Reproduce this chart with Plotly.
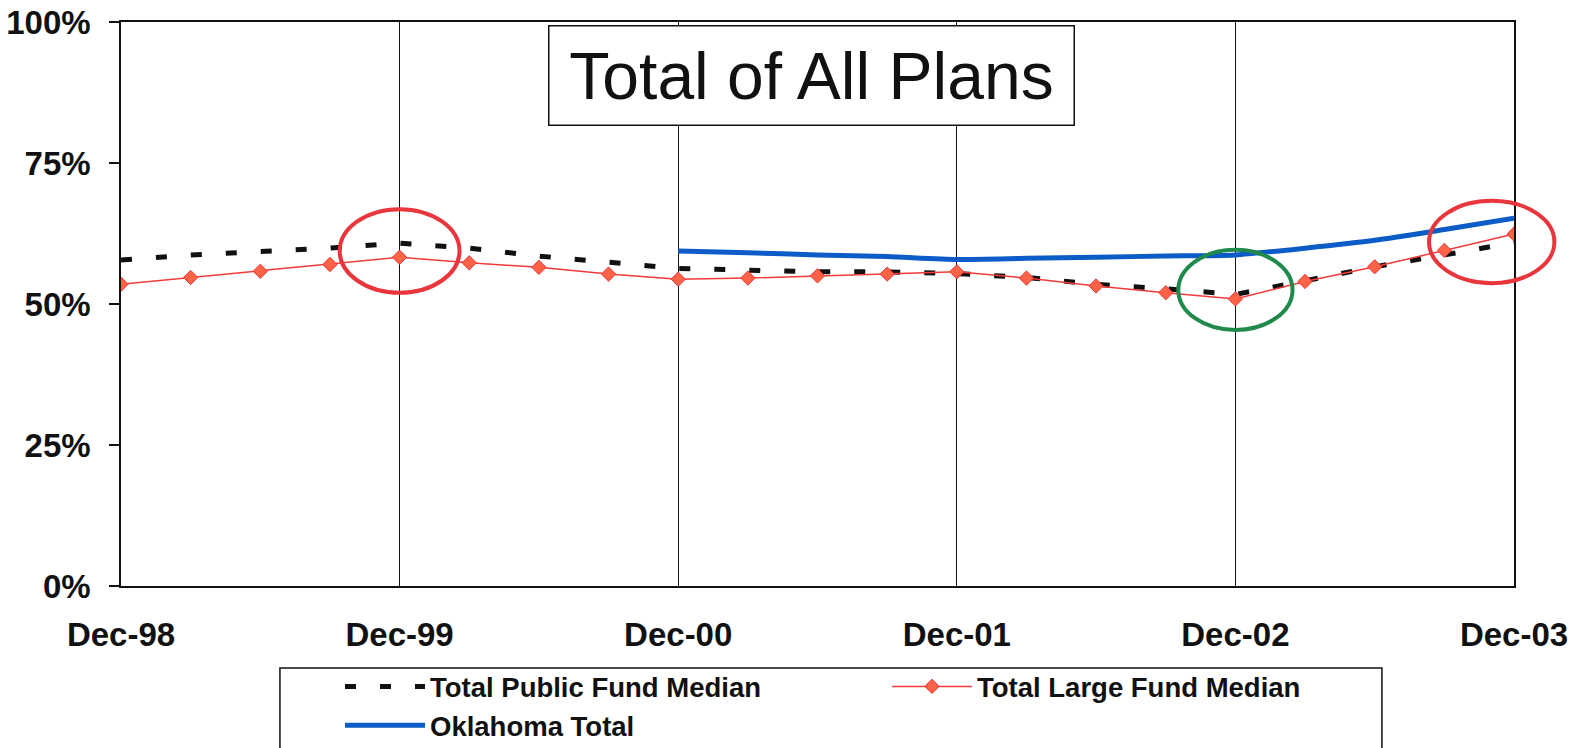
import plotly.graph_objects as go

# Quarter-end labels, Dec-98 through Dec-03
quarters = [
    "Dec-98", "Mar-99", "Jun-99", "Sep-99", "Dec-99", "Mar-00", "Jun-00",
    "Sep-00", "Dec-00", "Mar-01", "Jun-01", "Sep-01", "Dec-01", "Mar-02",
    "Jun-02", "Sep-02", "Dec-02", "Mar-03", "Jun-03", "Sep-03", "Dec-03",
]

# Equity allocation (%) by quarter
public_fund_median = [57.8, 58.7, 59.3, 59.9, 60.8, 59.9, 58.5, 57.3, 56.3, 56.0, 55.7,
                      55.7, 55.4, 54.7, 53.5, 52.7, 51.7, 54.1, 56.6, 58.7, 60.9]
large_fund_median = [53.5, 54.7, 55.8, 57.0, 58.3, 57.3, 56.5, 55.3, 54.4, 54.6, 55.0,
                     55.3, 55.7, 54.6, 53.2, 52.0, 50.9, 54.0, 56.6, 59.5, 62.4]
# Oklahoma series starts at Dec-00
oklahoma_start = 8
oklahoma_total = [59.4, 59.1, 58.7, 58.4, 57.9, 58.1, 58.3, 58.5, 58.7, 59.9, 61.3, 63.2, 65.2]

y_ticks = [0, 25, 50, 75, 100]
year_ticks = [0, 4, 8, 12, 16, 20]

# Highlight rings: (quarter position, centre %, half-width in quarters, half-height in %, colour)
rings = [
    (4.0, 59.4, 0.86, 7.4, "#E8363C"),
    (16.0, 52.5, 0.82, 7.1, "#1F8A4C"),
    (19.68, 61.0, 0.90, 7.3, "#E8363C"),
]

x_all = list(range(len(quarters)))
x_ok = x_all[oklahoma_start:oklahoma_start + len(oklahoma_total)]

FONT = "Liberation Sans, Arial, sans-serif"
W, H = 1578, 748

fig = go.Figure()
fig.add_trace(go.Scatter(
    x=x_all, y=public_fund_median, mode="lines", name="Total Public Fund Median",
    line=dict(color="#111111", width=5, dash="11px,24px"),
))
fig.add_trace(go.Scatter(
    x=x_all, y=large_fund_median, mode="lines+markers", name="Total Large Fund Median",
    line=dict(color="#F23A3A", width=1.5),
    marker=dict(symbol="diamond", size=11, color="#FF6347",
                line=dict(color="#F03434", width=1)),
))
fig.add_trace(go.Scatter(
    x=x_ok, y=oklahoma_total, mode="lines", name="Oklahoma Total",
    line=dict(color="#0B5CC6", width=5, shape="spline", smoothing=0.6),
))

X_MAX = len(quarters) - 1
shapes = []
for cx, cy, rx, ry, col in rings:
    shapes.append(dict(
        type="circle", xref="paper", yref="paper",
        x0=(cx - rx) / X_MAX, x1=(cx + rx) / X_MAX,
        y0=(cy - ry) / 100, y1=(cy + ry) / 100,
        line=dict(color=col, width=4), layer="above",
    ))

# Frame around the legend, running off the bottom of the page
shapes.append(dict(
    type="rect", xref="paper", yref="paper",
    x0=0.1141, x1=0.9052, y0=-0.31, y1=-0.1454,
    line=dict(color="#111111", width=1.5), fillcolor="white", layer="below",
))

fig.update_layout(
    width=W, height=H,
    margin=dict(l=121, r=64, t=22, b=162, autoexpand=False),
    paper_bgcolor="white", plot_bgcolor="white",
    font=dict(family=FONT, color="#111111"),
    showlegend=True,
    legend=dict(
        orientation="h", xref="container", yref="container",
        x=340 / W, xanchor="left", y=(H - 662) / H, yanchor="top",
        bgcolor="rgba(0,0,0,0)", borderwidth=0,
        font=dict(family=FONT, size=27.5, weight="bold", color="#111111"),
        itemwidth=80, entrywidth=452, traceorder="normal",
    ),
    shapes=shapes,
    annotations=[dict(
        text="Total of All Plans", xref="paper", yref="paper",
        x=0.496, y=0.906, xanchor="center", yanchor="middle", showarrow=False,
        font=dict(family=FONT, size=66, color="#111111"),
        bgcolor="white", bordercolor="#111111", borderwidth=1.5,
        width=520, height=94, borderpad=2,
    )],
)

fig.update_xaxes(
    automargin=False,
    range=[0, X_MAX], tickmode="array", tickvals=year_ticks,
    ticktext=[quarters[i] for i in year_ticks],
    showgrid=True, gridcolor="#111111", gridwidth=1,
    showline=True, linecolor="#111111", linewidth=1.5, mirror=True,
    ticks="", ticklabelstandoff=19, zeroline=False,
    tickfont=dict(family=FONT, size=33, weight="bold", color="#111111"),
)
fig.update_yaxes(
    automargin=False,
    range=[0, 100], tickmode="array", tickvals=y_ticks,
    ticktext=[f"{v}%" for v in y_ticks],
    showgrid=False, zeroline=False,
    showline=True, linecolor="#111111", linewidth=1.5, mirror=True,
    ticks="outside", ticklen=10, tickcolor="#111111", tickwidth=1.5,
    ticklabelstandoff=12,
    tickfont=dict(family=FONT, size=33, weight="bold", color="#111111"),
)

fig.write_html("out.html")
